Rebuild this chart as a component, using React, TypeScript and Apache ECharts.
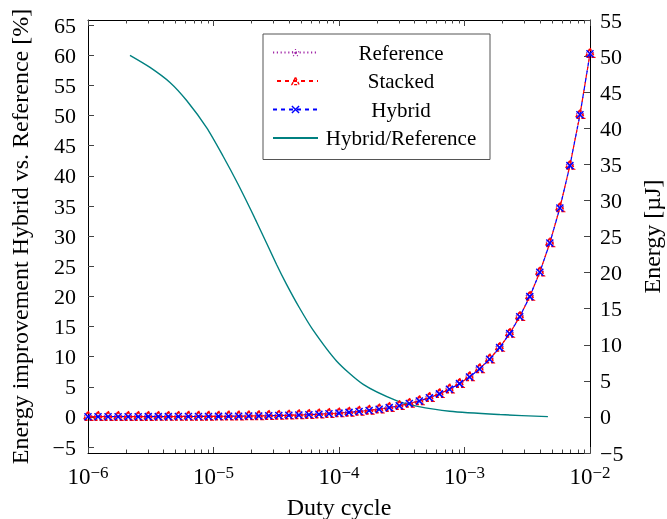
import React, { useEffect, useRef } from 'react';
import * as echarts from 'echarts';

const dutyCycle = [
  1.000e-6, 1.202e-6, 1.445e-6, 1.738e-6, 2.089e-6, 2.512e-6, 3.020e-6, 3.631e-6, 4.365e-6, 5.248e-6,
  6.310e-6, 7.586e-6, 9.120e-6, 1.096e-5, 1.318e-5, 1.585e-5, 1.905e-5, 2.291e-5, 2.754e-5, 3.311e-5,
  3.981e-5, 4.786e-5, 5.754e-5, 6.918e-5, 8.318e-5, 1.000e-4, 1.202e-4, 1.445e-4, 1.738e-4, 2.089e-4,
  2.512e-4, 3.020e-4, 3.631e-4, 4.365e-4, 5.248e-4, 6.310e-4, 7.586e-4, 9.120e-4, 1.096e-3, 1.318e-3,
  1.585e-3, 1.905e-3, 2.291e-3, 2.754e-3, 3.311e-3, 3.981e-3, 4.786e-3, 5.754e-3, 6.918e-3, 8.318e-3,
  1.000e-2,
];
const referenceEnergy = [
  0.075, 0.076, 0.077, 0.079, 0.081, 0.083, 0.085, 0.088, 0.092, 0.096,
  0.102, 0.108, 0.116, 0.125, 0.136, 0.150, 0.166, 0.185, 0.209, 0.237,
  0.270, 0.311, 0.359, 0.418, 0.488, 0.573, 0.675, 0.797, 0.944, 1.121,
  1.334, 1.589, 1.896, 2.266, 2.710, 3.244, 3.886, 4.657, 5.583, 6.700,
  8.043, 9.652, 11.59, 13.92, 16.72, 20.09, 24.14, 29.01, 34.87, 41.91,
  50.37,
];
const stackedEnergy = [
  0.035, 0.036, 0.037, 0.039, 0.041, 0.043, 0.045, 0.048, 0.052, 0.056,
  0.062, 0.068, 0.076, 0.085, 0.096, 0.110, 0.126, 0.145, 0.169, 0.197,
  0.230, 0.271, 0.319, 0.378, 0.448, 0.533, 0.635, 0.757, 0.904, 1.081,
  1.294, 1.549, 1.856, 2.226, 2.670, 3.204, 3.846, 4.617, 5.543, 6.660,
  8.003, 9.612, 11.55, 13.88, 16.68, 20.05, 24.10, 28.97, 34.83, 41.87,
  50.33,
];
const hybridEnergy = [
  0.027, 0.028, 0.029, 0.031, 0.033, 0.035, 0.037, 0.040, 0.044, 0.048,
  0.054, 0.060, 0.068, 0.077, 0.088, 0.102, 0.118, 0.137, 0.161, 0.189,
  0.222, 0.263, 0.311, 0.370, 0.440, 0.525, 0.627, 0.749, 0.896, 1.073,
  1.286, 1.541, 1.848, 2.218, 2.662, 3.196, 3.838, 4.609, 5.535, 6.652,
  7.995, 9.604, 11.54, 13.87, 16.67, 20.04, 24.09, 28.96, 34.82, 41.86,
  50.32,
];
const ratioDuty = [
  2.16e-6, 3.12e-6, 4.50e-6, 6.11e-6, 8.81e-6, 1.19e-5, 1.57e-5, 2.20e-5, 3.18e-5, 3.82e-5,
  4.81e-5, 6.22e-5, 9.55e-5, 1.56e-4, 2.87e-4, 4.14e-4, 7.62e-4, 1.91e-3, 4.62e-3,
];
const ratioImprovement = [
  60.0, 58.0, 55.5, 52.5, 48.0, 43.3, 38.6, 32.4, 25.3, 22.0,
  18.2, 14.4, 9.3, 5.4, 2.7, 1.8, 0.95, 0.4, 0.05,
];

const xMajorTicks = [1e-6, 1e-5, 1e-4, 1e-3, 1e-2];
const xMinorTicks = [
  2e-6, 3e-6, 4e-6, 5e-6, 6e-6, 7e-6, 8e-6, 9e-6,
  2e-5, 3e-5, 4e-5, 5e-5, 6e-5, 7e-5, 8e-5, 9e-5,
  2e-4, 3e-4, 4e-4, 5e-4, 6e-4, 7e-4, 8e-4, 9e-4,
  2e-3, 3e-3, 4e-3, 5e-3, 6e-3, 7e-3, 8e-3, 9e-3,
];
const leftTicks = [-5, 0, 5, 10, 15, 20, 25, 30, 35, 40, 45, 50, 55, 60, 65];

const FONT = '"Liberation Serif", "Times New Roman", serif';
const PURPLE = '#a22aa8';
const RED = '#ff0000';
const BLUE = '#0000ff';
const TEAL = '#008080';

const STAR = 'path://M5,5L5,0M5,5L9.755,3.455M5,5L7.939,9.045M5,5L2.061,9.045M5,5L0.245,3.455';
const CROSS = 'path://M0,0L10,10M10,0L0,10';

const minus = (v: number) => (v < 0 ? '\u2212' + Math.abs(v) : String(v));
const sup = (v: number) => {
  const e = Math.round(Math.log10(v));
  return `{b|10}{s|${e < 0 ? '\u2212' : ''}${Math.abs(e)}}`;
};

export default function App() {
  const ref = useRef<HTMLDivElement>(null);
  useEffect(() => {
    const chart = echarts.init(ref.current!, null, { renderer: 'svg' });
    const tickLine = { color: '#444', width: 1 };
    const frame = { show: true, onZero: false, lineStyle: { color: '#000', width: 1 } };
    const logX = {
      type: 'log',
      logBase: 10,
      min: 1e-6,
      max: 1e-2,
      splitLine: { show: false },
      minorTick: { show: false },
      minorSplitLine: { show: false },
    };
    const gridRect = { left: 88, right: 77, top: 20, bottom: 66, containLabel: false, outerBoundsMode: 'none' };
    chart.setOption({
      animation: false,
      grid: [gridRect, gridRect],
      legend: {
        orient: 'vertical',
        left: 263,
        top: 34,
        padding: [8, 11, 11, 9],
        itemGap: 7.5,
        itemWidth: 45,
        itemHeight: 9,
        selectedMode: false,
        borderColor: '#555',
        borderWidth: 1,
        backgroundColor: '#fff',
        textStyle: {
          color: '#000',
          fontFamily: FONT,
          fontSize: 21,
          rich: { c: { width: 156, align: 'center', fontSize: 21, lineHeight: 21, fontFamily: FONT, color: '#000' } },
        },
        formatter: (name: string) => `{c|${name}}`,
        data: [
          { name: 'Reference', itemStyle: { color: 'none', borderColor: PURPLE, borderWidth: 1.2, borderType: [1.2, 1.6] } },
          { name: 'Stacked', itemStyle: { color: 'none', borderColor: RED, borderWidth: 1.4, borderType: [3, 2] } },
          { name: 'Hybrid', itemStyle: { color: 'none', borderColor: BLUE, borderWidth: 1.4 } },
          { name: 'Hybrid/Reference', itemStyle: { opacity: 0 } },
        ],
      },
      xAxis: [
        {
          ...logX,
          gridIndex: 0,
          position: 'bottom',
          axisLine: frame,
          axisTick: { show: true, inside: true, length: 6, lineStyle: tickLine, customValues: xMajorTicks },
          axisLabel: {
            customValues: xMajorTicks,
            formatter: sup,
            margin: 11,
            color: '#000',
            rich: {
              b: { fontFamily: FONT, fontSize: 23, color: '#000', lineHeight: 24, verticalAlign: 'bottom' },
              s: { fontFamily: FONT, fontSize: 17, color: '#000', lineHeight: 14, verticalAlign: 'top' },
            },
          },
          name: 'Duty cycle',
          nameLocation: 'middle',
          nameGap: 42,
          nameTextStyle: { fontFamily: FONT, fontSize: 24, color: '#000' },
        },
        {
          ...logX,
          gridIndex: 0,
          position: 'top',
          axisLine: frame,
          axisTick: { show: true, inside: true, length: 6, lineStyle: tickLine, customValues: xMajorTicks },
          axisLabel: { show: false },
        },
        {
          ...logX,
          gridIndex: 1,
          position: 'bottom',
          axisLine: { show: false, onZero: false },
          axisTick: { show: true, inside: true, length: 3.5, lineStyle: tickLine, customValues: xMinorTicks },
          axisLabel: { show: false },
        },
        {
          ...logX,
          gridIndex: 1,
          position: 'top',
          axisLine: { show: false, onZero: false },
          axisTick: { show: true, inside: true, length: 3.5, lineStyle: tickLine, customValues: xMinorTicks },
          axisLabel: { show: false },
        },
      ],
      yAxis: [
        {
          type: 'value',
          gridIndex: 0,
          position: 'left',
          min: -5.98,
          max: 65.86,
          axisLine: frame,
          splitLine: { show: false },
          axisTick: { show: true, inside: true, length: 6, lineStyle: tickLine, customValues: leftTicks },
          axisLabel: {
            customValues: leftTicks,
            formatter: minus,
            margin: 12,
            fontFamily: FONT,
            fontSize: 22,
            color: '#000',
          },
          name: 'Energy improvement Hybrid vs. Reference [%]',
          nameLocation: 'middle',
          nameRotate: 90,
          nameGap: 56,
          nameTextStyle: { fontFamily: FONT, fontSize: 24, color: '#000' },
        },
        {
          type: 'value',
          gridIndex: 0,
          position: 'right',
          min: -5,
          max: 55,
          interval: 5,
          axisLine: frame,
          splitLine: { show: false },
          axisTick: { show: true, inside: true, length: 6, lineStyle: tickLine },
          axisLabel: { formatter: minus, margin: 10, fontFamily: FONT, fontSize: 22, color: '#000' },
          name: 'Energy [\u00b5J]',
          nameLocation: 'middle',
          nameRotate: 90,
          nameGap: 50,
          nameTextStyle: { fontFamily: FONT, fontSize: 24, color: '#000' },
        },
        { type: 'value', gridIndex: 1, show: false },
      ],
      series: [
        {
          name: 'Reference',
          type: 'line',
          xAxisIndex: 0,
          yAxisIndex: 1,
          clip: false,
          data: dutyCycle.map((d, i) => [d, referenceEnergy[i]]),
          symbol: STAR,
          symbolSize: 10,
          itemStyle: { color: 'none', borderColor: PURPLE, borderWidth: 1.3, borderType: [1.3, 1.6] },
          lineStyle: { color: PURPLE, width: 1.2, type: [1.2, 2.6] },
        },
        {
          name: 'Stacked',
          type: 'line',
          xAxisIndex: 0,
          yAxisIndex: 1,
          clip: false,
          data: dutyCycle.map((d, i) => [d, stackedEnergy[i]]),
          symbol: 'triangle',
          symbolSize: 9,
          symbolOffset: [0, -1],
          itemStyle: { color: 'none', borderColor: RED, borderWidth: 1.6, borderType: [3, 2] },
          lineStyle: { color: RED, width: 1.2, type: [4, 4], dashOffset: 4 },
        },
        {
          name: 'Hybrid',
          type: 'line',
          xAxisIndex: 0,
          yAxisIndex: 1,
          clip: false,
          data: dutyCycle.map((d, i) => [d, hybridEnergy[i]]),
          symbol: CROSS,
          symbolSize: 7,
          itemStyle: { color: 'none', borderColor: BLUE, borderWidth: 1.5 },
          lineStyle: { color: BLUE, width: 1.2, type: [4, 4] },
        },
        {
          name: 'Hybrid/Reference',
          type: 'line',
          xAxisIndex: 0,
          yAxisIndex: 0,
          data: ratioDuty.map((d, i) => [d, ratioImprovement[i]]),
          symbol: 'none',
          showSymbol: false,
          smooth: 0.25,
          lineStyle: { color: TEAL, width: 1.4 },
          itemStyle: { color: TEAL },
        },
      ],
    });
    return () => chart.dispose();
  }, []);
  return <div ref={ref} style={{ position: 'fixed', left: 0, top: 0, width: 667, height: 519 }} />;
}
